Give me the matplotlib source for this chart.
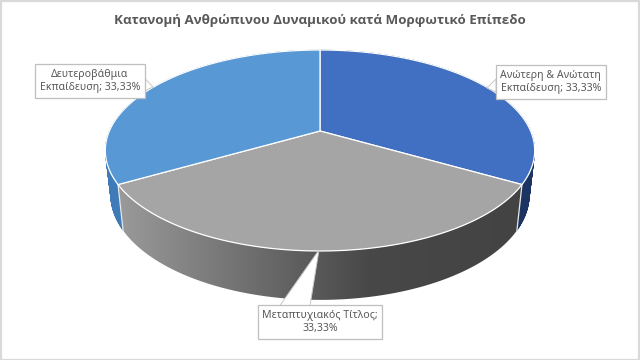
import numpy as np
import matplotlib
matplotlib.use("Agg")
import matplotlib.pyplot as plt
from matplotlib import font_manager as fm
from matplotlib.collections import PolyCollection
from matplotlib.colors import LinearSegmentedColormap
from matplotlib.patches import Polygon, Rectangle

TITLE = "Κατανομή Ανθρώπινου Δυναμικού κατά Μορφωτικό Επίπεδο"
categories = ["Ανώτερη & Ανώτατη Εκπαίδευση", "Μεταπτυχιακός Τίτλος", "Δευτεροβάθμια Εκπαίδευση"]
values = [33.33, 33.33, 33.33]
label_texts = ["Ανώτερη & Ανώτατη\nΕκπαίδευση; 33,33%", "Μεταπτυχιακός Τίτλος;\n33,33%", "Δευτεροβάθμια\nΕκπαίδευση; 33,33%"]
top_colors = ["#4170C2", "#A5A5A5", "#5898D4"]
wall_colors = ["#1C3461", None, "#3F7BB8"]
grey_wall = LinearSegmentedColormap.from_list(
    "g", [(0, "#9A9A9A"), (0.45, "#5E5E5E"), (0.62, "#484848"), (1, "#434343")])

plt.rcParams["font.family"] = ["Noto Sans", "DejaVu Sans"]
fig = plt.figure(figsize=(6.4, 3.6), dpi=100, facecolor="white")
ax = fig.add_axes([0, 0, 1, 1])
ax.set_xlim(0, 640)
ax.set_ylim(360, 0)
ax.axis("off")


def top(t):
    """Perspective projection of the pie's upper disc; t clockwise from 12 o'clock."""
    u, v = np.sin(t), np.cos(t)
    w = 1 + 0.194 * v
    return 320 + 210.6 * u / w, (131 - 71.3 * v) / w


def bottom(t):
    x, y = top(t)
    return 320 + (x - 320) * 0.975, y * 1.045 + 37.6


edges = np.radians(np.concatenate([[0], np.cumsum(values)]) / np.sum(values) * 360)
slices = list(zip(edges[:-1], edges[1:]))

# side walls
for i, (a, b) in enumerate(slices):
    ts = np.linspace(a, b, 241)
    xt, yt = top(ts)
    xb, yb = bottom(ts)
    if wall_colors[i]:
        polys = [[(xt[j], yt[j]), (xt[j + 1], yt[j + 1]), (xb[j + 1], yb[j + 1]), (xb[j], yb[j])]
                 for j in range(len(ts) - 1)]
        ax.add_collection(PolyCollection(polys, facecolors=wall_colors[i], edgecolors=wall_colors[i],
                                         linewidths=0.4, zorder=2))
    else:
        outline = Polygon(np.column_stack([np.r_[xt, xb[::-1]], np.r_[yt, yb[::-1]]]), closed=True,
                          transform=ax.transData, facecolor="none", edgecolor="none")
        ax.add_patch(outline)
        grad = np.linspace(0, 1, 404)[None, :]
        im = ax.imshow(grad, cmap=grey_wall, extent=(118, 522, 320, 170), aspect="auto",
                       interpolation="bilinear", zorder=2)
        im.set_clip_path(outline)
ax.set_xlim(0, 640)
ax.set_ylim(360, 0)

# wall separators
for e in edges[1:-1]:
    ax.plot([top(e)[0], bottom(e)[0]], [top(e)[1], bottom(e)[1]], color="#E8E8E8", lw=0.9, zorder=3)

# top faces
for i, (a, b) in enumerate(slices):
    ts = np.linspace(a, b, 200)
    x, y = top(ts)
    pts = np.column_stack([np.r_[320, x], np.r_[131, y]])
    ax.add_patch(Polygon(pts, closed=True, facecolor=top_colors[i], edgecolor="white", lw=0.9, zorder=4))

# callouts: box (x0, y0, x1, y1) and pointer triangle
boxes = [(496, 65, 605.5, 99), (258, 305, 382, 339), (35, 64, 144.5, 98)]
pointers = [[(496, 79), (487, 88), (496, 92)],
            [(280, 305.5), (319, 250), (310, 305.5)],
            [(144.5, 78), (153, 87), (144.5, 91)]]
for (x0, y0, x1, y1), tri, s in zip(boxes, pointers, label_texts):
    ax.add_patch(Polygon(tri, closed=True, facecolor="white", edgecolor="#C8C8C8", lw=0.7, zorder=5))
    ax.add_patch(Rectangle((x0, y0), x1 - x0, y1 - y0, facecolor="white", edgecolor="#BFBFBF", lw=0.9, zorder=6))
    ax.text((x0 + x1) / 2, (y0 + y1) / 2, s, ha="center", va="center", fontsize=7.6,
            color="#595959", linespacing=1.25, zorder=7)

# title: first family that really ships a bold face
names_bold = {f.name for f in fm.fontManager.ttflist if isinstance(f.weight, int) and f.weight >= 600
              or f.weight == "bold"}
title_family = next((n for n in ["Open Sans", "Noto Sans", "Roboto", "Liberation Sans", "DejaVu Sans"]
                     if n in names_bold), "DejaVu Sans")
print(title_family)
ax.text(320, 20.5, TITLE, ha="center", va="center", fontsize=9.6, fontweight="bold",
        family=title_family, color="#595959")

# chart frame
ax.add_patch(Rectangle((0.5, 0.5), 638, 359, fill=False, edgecolor="#D9D9D9", lw=1.6, zorder=8, clip_on=False))

fig.savefig("out.png", dpi=100, facecolor="white")
